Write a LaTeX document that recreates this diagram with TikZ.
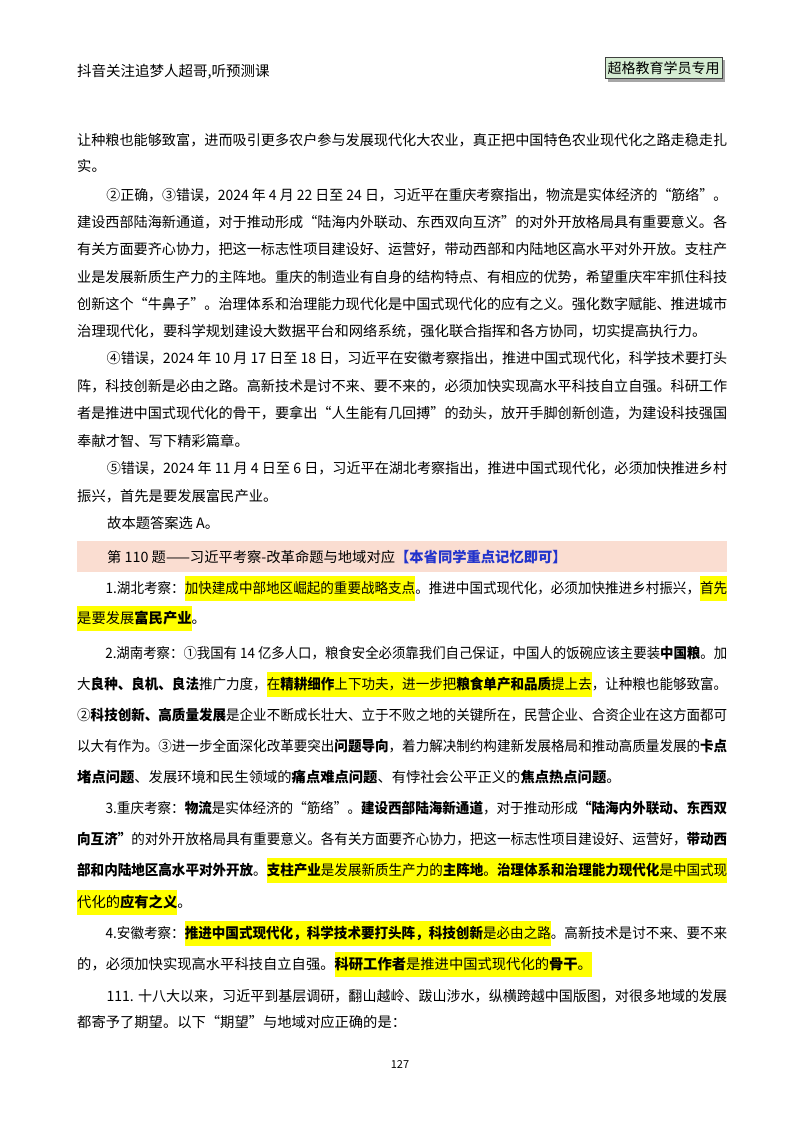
\documentclass[tikz,border=0pt]{standalone}
\usepackage{fontspec}
\setmainfont{Noto Sans CJK SC}
\usepackage{xcolor}
\usepackage{graphicx}
\definecolor{hly}{HTML}{FFFF00}
\definecolor{band}{HTML}{FADDD1}
\definecolor{badge}{HTML}{D6EDD3}
\definecolor{bluet}{HTML}{2233CC}
\newcommand\hlt[1]{\begingroup\setlength\fboxsep{0pt}\colorbox{hly}{\rule[-8pt]{0pt}{25pt}#1}\endgroup}
\newcommand\ind{\hspace*{30pt}}
\newcommand\jl[2]{\node[anchor=base west,inner sep=0pt,font=\fontsize{14.3pt}{18pt}\selectfont] at (77,#1) {\resizebox{650pt}{\height}{\mbox{#2}}};}
\newcommand\pl[2]{\node[anchor=base west,inner sep=0pt,font=\fontsize{14.3pt}{18pt}\selectfont] at (77,#1) {#2};}
\begin{document}
\begin{tikzpicture}[x=1pt,y=-1pt]
\useasboundingbox (0,0) rectangle (800,1132);
\fill[white] (0,0) rectangle (800,1132);
\node[anchor=base west,inner sep=0pt,font=\fontsize{14.5pt}{17pt}\selectfont] (hdr) at (77,77) {抖音关注追梦人超哥,听预测课};
\fill[gray!70] (608,60) rectangle (725,82);
\node[draw=black!75,line width=0.8pt,fill=badge,inner sep=2pt,minimum width=117pt,minimum height=21pt,font=\fontsize{14pt}{16pt}\selectfont] (badge) at (663.5,68) {超格教育学员专用};
\jl{145}{让种粮也能够致富，进而吸引更多农户参与发展现代化大农业，真正把中国特色农业现代化之路走稳走扎}
\pl{171}{实。}
\jl{200}{\ind ②正确，③错误，2024 年 4 月 22 日至 24 日，习近平在重庆考察指出，物流是实体经济的“筋络”。}
\jl{227}{建设西部陆海新通道，对于推动形成“陆海内外联动、东西双向互济”的对外开放格局具有重要意义。各}
\jl{254}{有关方面要齐心协力，把这一标志性项目建设好、运营好，带动西部和内陆地区高水平对外开放。支柱产}
\jl{282}{业是发展新质生产力的主阵地。重庆的制造业有自身的结构特点、有相应的优势，希望重庆牢牢抓住科技}
\jl{309}{创新这个“牛鼻子”。治理体系和治理能力现代化是中国式现代化的应有之义。强化数字赋能、推进城市}
\pl{336}{治理现代化，要科学规划建设大数据平台和网络系统，强化联合指挥和各方协同，切实提高执行力。}
\jl{363}{\ind ④错误，2024 年 10 月 17 日至 18 日，习近平在安徽考察指出，推进中国式现代化，科学技术要打头}
\jl{391}{阵，科技创新是必由之路。高新技术是讨不来、要不来的，必须加快实现高水平科技自立自强。科研工作}
\jl{418}{者是推进中国式现代化的骨干，要拿出“人生能有几回搏”的劲头，放开手脚创新创造，为建设科技强国}
\pl{446}{奉献才智、写下精彩篇章。}
\jl{473}{\ind ⑤错误，2024 年 11 月 4 日至 6 日，习近平在湖北考察指出，推进中国式现代化，必须加快推进乡村}
\pl{501}{振兴，首先是要发展富民产业。}
\pl{528}{\ind 故本题答案选 A。}
\fill[band] (77,541) rectangle (727,572);
\pl{562}{\ind 第 110 题——习近平考察-改革命题与地域对应\textcolor{bluet}{\bfseries【本省同学重点记忆即可】}}
\jl{593}{\ind 1.湖北考察：\hlt{加快建成中部地区崛起的重要战略支点}。推进中国式现代化，必须加快推进乡村振兴，\hlt{首先}}
\pl{623}{\hlt{是要发展\textbf{富民产业}}。}
\jl{658}{\ind 2.湖南考察：①我国有 14 亿多人口，粮食安全必须靠我们自己保证，中国人的饭碗应该主要装\textbf{中国粮}。加}
\jl{689}{大\textbf{良种、良机、良法}推广力度，\hlt{在\textbf{精耕细作}上下功夫，进一步把\textbf{粮食单产和品质}提上去}，让种粮也能够致富。}
\jl{720}{②\textbf{科技创新、高质量发展}是企业不断成长壮大、立于不败之地的关键所在，民营企业、合资企业在这方面都可}
\jl{751}{以大有作为。③进一步全面深化改革要突出\textbf{问题导向}，着力解决制约构建新发展格局和推动高质量发展的\textbf{卡点}}
\pl{782}{\textbf{堵点问题}、发展环境和民生领域的\textbf{痛点难点问题}、有悖社会公平正义的\textbf{焦点热点问题}。}
\jl{813}{\ind 3.重庆考察：\textbf{物流}是实体经济的“筋络”。\textbf{建设西部陆海新通道}，对于推动形成\textbf{“陆海内外联动、东西双}}
\jl{844}{\textbf{向互济”}的对外开放格局具有重要意义。各有关方面要齐心协力，把这一标志性项目建设好、运营好，\textbf{带动西}}
\jl{875}{\textbf{部和内陆地区高水平对外开放}。\hlt{\textbf{支柱产业}是发展新质生产力的\textbf{主阵地}。\textbf{治理体系和治理能力现代化}是中国式现}}
\pl{907}{\hlt{代化的\textbf{应有之义}}。}
\jl{938}{\ind 4.安徽考察：\hlt{\textbf{推进中国式现代化，科学技术要打头阵，科技创新}是必由之路}。高新技术是讨不来、要不来}
\pl{969}{的，必须加快实现高水平科技自立自强。\hlt{\textbf{科研工作者}是推进中国式现代化的\textbf{骨干}。}}
\jl{1001}{\ind 111. 十八大以来，习近平到基层调研，翻山越岭、跋山涉水，纵横跨越中国版图，对很多地域的发展}
\pl{1027}{都寄予了期望。以下“期望”与地域对应正确的是：}
\node[font=\fontsize{11pt}{13pt}\selectfont] (pg) at (400,1064) {127};
\end{tikzpicture}
\end{document}
